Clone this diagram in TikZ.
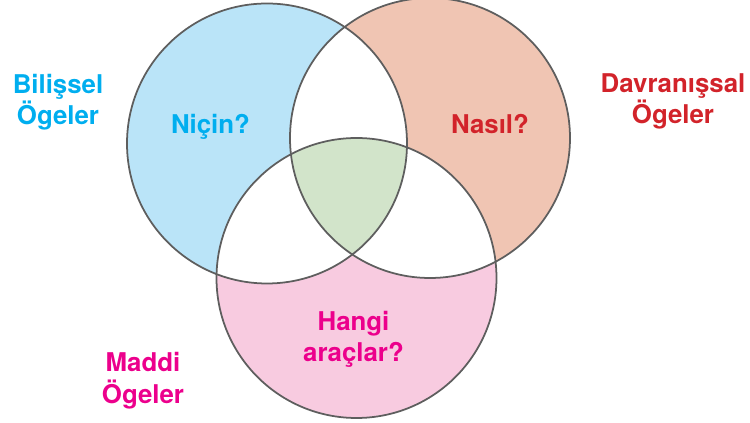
\documentclass[tikz,border=0pt]{standalone}
\usepackage{fontspec}
\setmainfont{TeX Gyre Heros}
\usepackage{xcolor}
\usepackage{tikz}
\definecolor{edge}{HTML}{5E5E5E}
\definecolor{bilText}{HTML}{00AEEF}
\definecolor{davText}{HTML}{D2232A}
\definecolor{madText}{HTML}{EC008C}
\definecolor{bilFill}{HTML}{BAE4F8}
\definecolor{davFill}{HTML}{F0C5B3}
\definecolor{madFill}{HTML}{F8CBE0}
\definecolor{ortaFill}{HTML}{D2E4CA}
\tikzset{
  vennCircle/.style={draw=edge, line width=1pt},
  vennLabel/.style={font=\bfseries\fontsize{14.7}{17.9}\selectfont, align=center, inner sep=0pt},
  vennText/.style={vennLabel, anchor=base}
}

\begin{document}
\begin{tikzpicture}
  \useasboundingbox (0,0) rectangle (15,8.46);

  \def\r{2.8}
  \coordinate (L) at (5.34,5.59);
  \coordinate (R) at (8.60,5.70);
  \coordinate (M) at (7.13,2.90);

  \fill[bilFill] (L) circle (\r);
  \fill[davFill] (R) circle (\r);
  \fill[madFill] (M) circle (\r);

  % two-way overlaps stay white
  \begin{scope}
    \clip (L) circle (\r);
    \fill[white] (R) circle (\r);
    \fill[white] (M) circle (\r);
  \end{scope}
  \begin{scope}
    \clip (R) circle (\r);
    \fill[white] (M) circle (\r);
  \end{scope}

  % middle part
  \begin{scope}
    \clip (L) circle (\r);
    \clip (R) circle (\r);
    \fill[ortaFill] (M) circle (\r);
  \end{scope}

  \draw[vennCircle] (L) circle (\r);
  \draw[vennCircle] (R) circle (\r);
  \draw[vennCircle] (M) circle (\r);

  \node[vennLabel, text=bilText] (bilissel) at (1.16,6.42) {Bilişsel\\Ögeler};
  \node[vennLabel, text=davText] (davranis) at (13.46,6.43) {Davranışsal\\Ögeler};
  \node[vennLabel, text=madText] (maddi) at (2.86,0.85) {Maddi\\Ögeler};

  \node[vennText, text=bilText] (nicin) at (4.21,5.78) {Niçin?};
  \node[vennText, text=davText] (nasil) at (9.80,5.78) {Nasıl?};
  \node[vennLabel, text=madText] (hangi) at (7.07,1.67) {Hangi\\araçlar?};
\end{tikzpicture}
\end{document}
